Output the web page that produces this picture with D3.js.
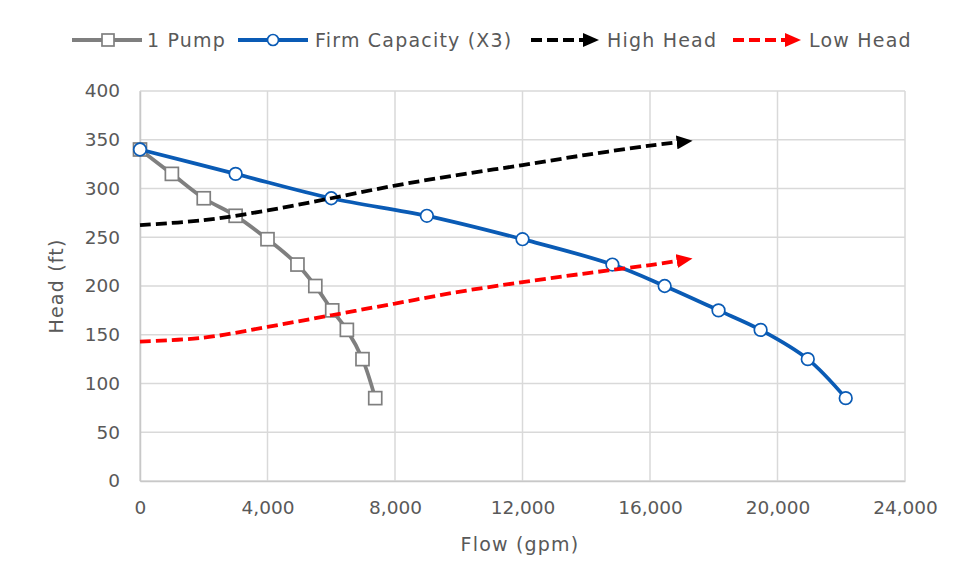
<!DOCTYPE html>
<html>
<head>
<meta charset="utf-8">
<script src="https://cdn.jsdelivr.net/npm/d3@7"></script>
<style>
  html, body { margin: 0; padding: 0; background: #fff; }
  svg { display: block; font-family: "DejaVu Sans", sans-serif; }
</style>
</head>
<body>
<svg id="chart" width="956" height="584"></svg>
<script>
// Single pump curve (flow in gpm, head in ft)
const pumpFlow = [0, 1000, 2000, 3000, 4000, 4940, 5500, 6030, 6490, 6980, 7380];
const pumpHead = [340, 315, 290, 272, 248, 222, 200, 175, 155, 125, 85];

// Firm capacity with three pumps running
const firmFlow = [0, 3000, 6000, 9000, 12000, 14820, 16460, 18150, 19470, 20950, 22140];
const firmHead = [340, 315, 290, 272, 248, 222, 200, 175, 155, 125, 85];

// System curves
const sysFlow = [0, 2000, 4000, 6000, 8000, 10000, 12000, 14000, 16000, 16900];
const highHead = [262.5, 267.5, 277.5, 290, 303, 314, 324, 334.5, 344, 347.5];
const lowHead = [143, 147, 158, 170, 182, 194, 204, 213, 221.5, 226];

const xTicks = [0, 4000, 8000, 12000, 16000, 20000, 24000];
const yTicks = [0, 50, 100, 150, 200, 250, 300, 350, 400];

const legendLabels = ["1 Pump", "Firm Capacity (X3)", "High Head", "Low Head"];

const svg = d3.select("#chart");
const margin = { left: 140, right: 51, top: 91, bottom: 103 };
const W = 956, H = 584;
const x = d3.scaleLinear().domain([0, 24000]).range([margin.left, W - margin.right]);
const y = d3.scaleLinear().domain([0, 400]).range([H - margin.bottom, margin.top]);

const textColor = "#595959";
const gridColor = "#d9d9d9";
const gray = "#7f7f7f";
const blue = "#0a5bb5";
const lw = 3.8;

// arrow markers for system curves
const defs = svg.append("defs");
[["arrowBlack", "#000"], ["arrowRed", "#ff0000"]].forEach(([id, c]) => {
  defs.append("marker")
    .attr("id", id)
    .attr("viewBox", "0 0 16 14")
    .attr("refX", 2).attr("refY", 7)
    .attr("markerWidth", 16).attr("markerHeight", 14)
    .attr("markerUnits", "userSpaceOnUse")
    .attr("orient", "auto")
    .append("path").attr("d", "M0,0 L16,7 L0,14 Z").attr("fill", c);
});

// gridlines
const grid = svg.append("g");
grid.selectAll("line.h").data(yTicks).join("line")
  .attr("x1", x(0)).attr("x2", x(24000))
  .attr("y1", d => y(d)).attr("y2", d => y(d))
  .attr("stroke", gridColor).attr("stroke-width", 1.5);
grid.selectAll("line.v").data(xTicks).join("line")
  .attr("x1", d => x(d)).attr("x2", d => x(d))
  .attr("y1", y(0)).attr("y2", y(400))
  .attr("stroke", gridColor).attr("stroke-width", 1.5);

// axes
const xAxis = d3.axisBottom(x).tickValues(xTicks).tickFormat(d3.format(",")).tickSize(0).tickPadding(20);
const yAxis = d3.axisLeft(y).tickValues(yTicks).tickSize(0).tickPadding(20);
const gx = svg.append("g").attr("transform", `translate(0,${y(0)})`).call(xAxis);
const gy = svg.append("g").attr("transform", `translate(${x(0)},0)`).call(yAxis);
[gx, gy].forEach(g => {
  g.select(".domain").attr("stroke", "#c8c8c8").attr("stroke-width", 1.5);
  g.selectAll("text").attr("fill", textColor).attr("font-size", 18.5)
    .attr("font-family", "DejaVu Sans, sans-serif");
});

svg.append("text").attr("x", 520).attr("y", 551).attr("text-anchor", "middle")
  .attr("fill", textColor).attr("font-size", 19).attr("letter-spacing", 1.2).text("Flow (gpm)");
svg.append("text").attr("transform", `translate(63,${(y(0) + y(400)) / 2}) rotate(-90)`)
  .attr("text-anchor", "middle").attr("fill", textColor).attr("font-size", 19)
  .attr("letter-spacing", 1.2).text("Head (ft)");

// series
const smooth = d3.line().curve(d3.curveCatmullRom.alpha(0.5));
const pumpPts = pumpFlow.map((f, i) => [x(f), y(pumpHead[i])]);
const firmPts = firmFlow.map((f, i) => [x(f), y(firmHead[i])]);
const highPts = sysFlow.map((f, i) => [x(f), y(highHead[i])]);
const lowPts = sysFlow.map((f, i) => [x(f), y(lowHead[i])]);

svg.append("path").attr("d", smooth(pumpPts)).attr("fill", "none")
  .attr("stroke", gray).attr("stroke-width", lw).attr("stroke-linejoin", "round");
svg.append("g").selectAll("rect").data(pumpPts).join("rect")
  .attr("x", d => d[0] - 6.5).attr("y", d => d[1] - 6.5)
  .attr("width", 13).attr("height", 13)
  .attr("fill", "#fff").attr("stroke", gray).attr("stroke-width", 1.7);

svg.append("path").attr("d", smooth(firmPts)).attr("fill", "none")
  .attr("stroke", blue).attr("stroke-width", lw).attr("stroke-linejoin", "round");
svg.append("g").selectAll("circle").data(firmPts).join("circle")
  .attr("cx", d => d[0]).attr("cy", d => d[1]).attr("r", 6.3)
  .attr("fill", "#fff").attr("stroke", blue).attr("stroke-width", 1.7);

svg.append("path").attr("d", smooth(highPts)).attr("fill", "none")
  .attr("stroke", "#000").attr("stroke-width", lw).attr("stroke-dasharray", "11,5")
  .attr("marker-end", "url(#arrowBlack)");
svg.append("path").attr("d", smooth(lowPts)).attr("fill", "none")
  .attr("stroke", "#ff0000").attr("stroke-width", lw).attr("stroke-dasharray", "11,5")
  .attr("marker-end", "url(#arrowRed)");

// legend
const ly = 40;
const leg = svg.append("g");
// 1 Pump
leg.append("line").attr("x1", 72).attr("x2", 142).attr("y1", ly).attr("y2", ly)
  .attr("stroke", gray).attr("stroke-width", lw);
leg.append("rect").attr("x", 102).attr("y", ly - 6).attr("width", 12).attr("height", 12)
  .attr("fill", "#fff").attr("stroke", gray).attr("stroke-width", 1.7);
// Firm capacity
leg.append("line").attr("x1", 238).attr("x2", 308).attr("y1", ly).attr("y2", ly)
  .attr("stroke", blue).attr("stroke-width", lw);
leg.append("circle").attr("cx", 273).attr("cy", ly).attr("r", 5.5)
  .attr("fill", "#fff").attr("stroke", blue).attr("stroke-width", 1.7);
// High head
leg.append("line").attr("x1", 531).attr("x2", 585).attr("y1", ly).attr("y2", ly)
  .attr("stroke", "#000").attr("stroke-width", lw).attr("stroke-dasharray", "11,5")
  .attr("marker-end", "url(#arrowBlack)");
// Low head
leg.append("line").attr("x1", 733).attr("x2", 787).attr("y1", ly).attr("y2", ly)
  .attr("stroke", "#ff0000").attr("stroke-width", lw).attr("stroke-dasharray", "11,5")
  .attr("marker-end", "url(#arrowRed)");

const legX = [147, 315, 607, 809];
leg.selectAll("text").data(legendLabels).join("text")
  .attr("x", (d, i) => legX[i]).attr("y", ly).attr("dy", "0.35em")
  .attr("fill", textColor).attr("font-size", 19).attr("letter-spacing", 1.2).text(d => d);
</script>
</body>
</html>
